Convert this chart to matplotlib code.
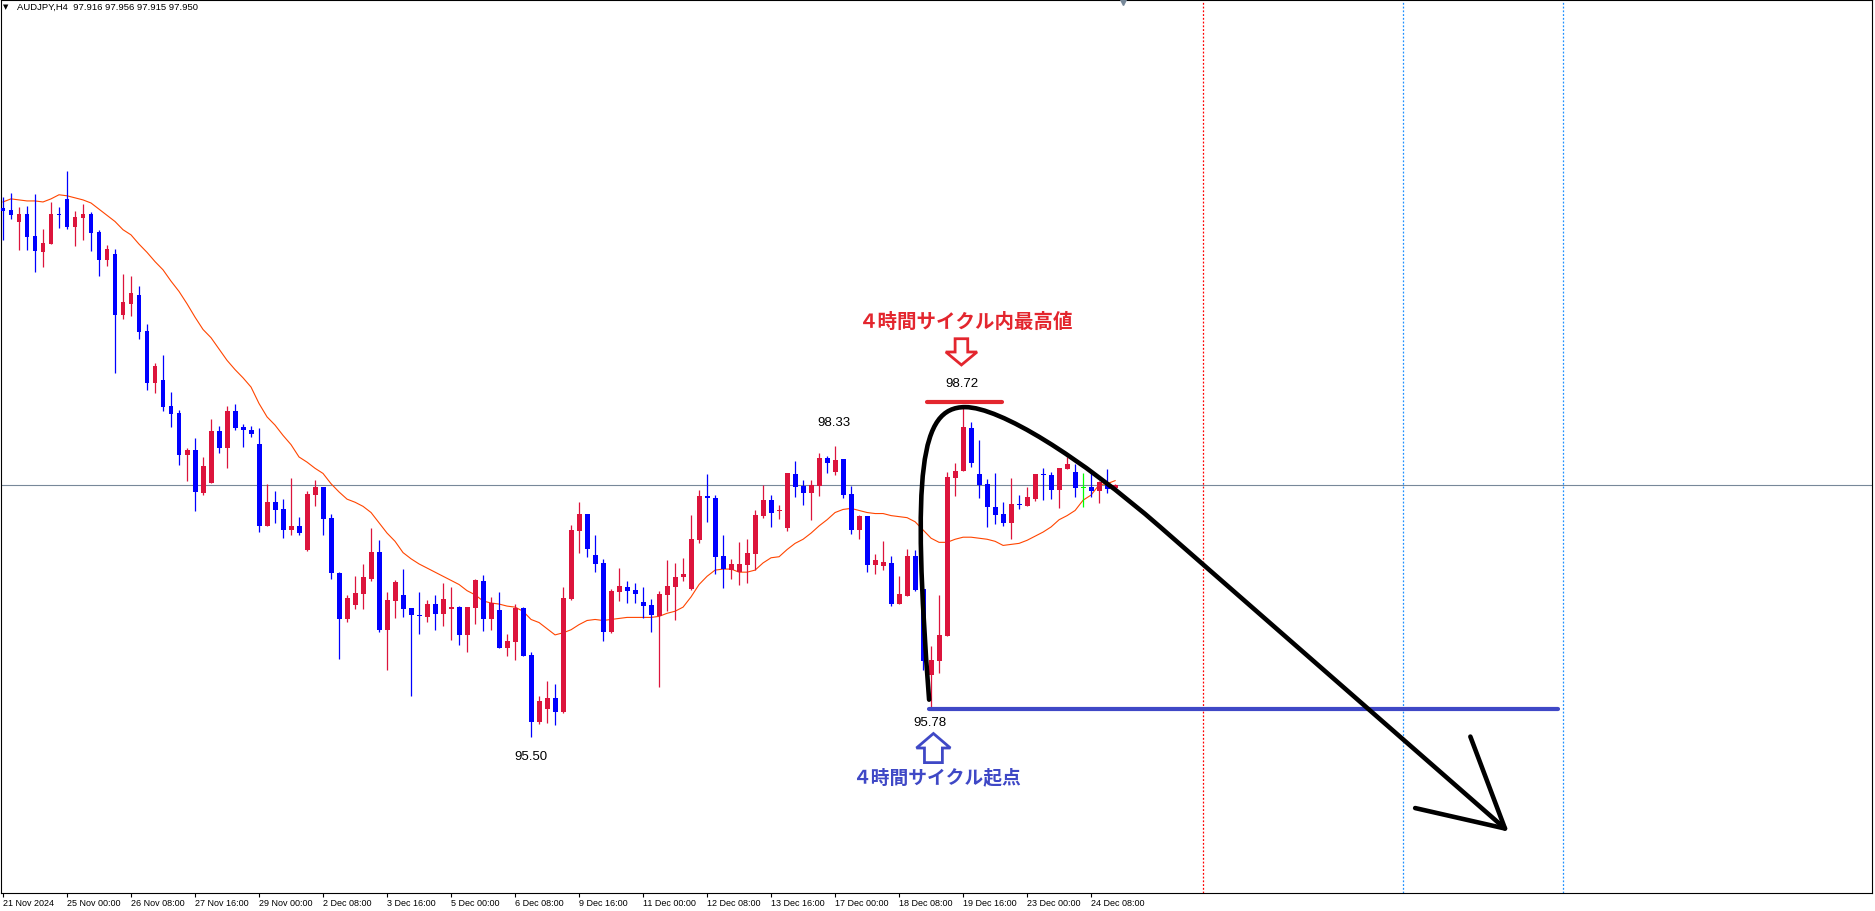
import numpy as np
import matplotlib.pyplot as plt
from matplotlib.path import Path
from matplotlib.patches import PathPatch, Polygon

# ---- AUDJPY H4 candles (bar 0 = 21 Nov 16:00) ----
opens = [
    100.64, 100.62, 100.51, 100.58, 100.37, 100.21, 100.29, 100.58, 100.73, 100.46,
    100.54, 100.58, 100.41, 100.14, 100.19, 99.60, 99.71, 99.80, 99.45, 98.94,
    98.97, 98.72, 98.65, 98.24, 98.29, 97.87, 97.97, 98.47, 98.31, 98.67,
    98.51, 98.48, 98.35, 97.55, 97.78, 97.71, 97.51, 97.55, 97.32, 97.85,
    97.93, 97.63, 97.09, 96.64, 96.78, 96.89, 97.03, 97.30, 96.54, 96.82,
    96.88, 96.75, 96.68, 96.66, 96.79, 96.69, 96.74, 96.76, 96.49, 96.75,
    97.01, 96.64, 96.73, 96.36, 96.42, 96.75, 96.29, 95.64, 95.77, 95.88,
    95.74, 96.84, 97.50, 97.67, 97.27, 97.19, 96.52, 96.91, 96.96, 96.93,
    96.81, 96.78, 96.67, 96.88, 96.96, 97.05, 96.94, 97.41, 97.84, 97.82,
    97.26, 97.12, 97.10, 97.17, 97.28, 97.65, 97.80, 97.69, 97.53, 98.05,
    97.94, 97.87, 97.94, 98.21, 98.07, 98.20, 97.86, 97.51, 97.65, 97.17,
    97.16, 97.19, 96.79, 96.87, 97.26, 96.94, 96.10, 96.24, 96.48, 98.02,
    98.08, 98.50, 98.05, 97.96, 97.73, 97.67, 97.58, 97.76, 97.74, 97.81,
    98.05, 98.04, 97.90, 98.10, 98.07, 97.92, 97.93, 97.89, 97.96, 97.916]
highs = [
    100.75, 100.79, 100.65, 100.66, 100.78, 100.44, 100.70, 100.65, 101.00, 100.61,
    100.68, 100.60, 100.43, 100.28, 100.24, 100.00, 99.98, 99.88, 99.51, 99.13,
    99.21, 98.85, 98.68, 98.31, 98.40, 98.22, 98.59, 98.52, 98.72, 98.74,
    98.54, 98.52, 98.50, 97.96, 97.89, 97.81, 98.02, 97.64, 97.89, 98.00,
    97.93, 97.67, 97.10, 96.88, 97.06, 97.18, 97.53, 97.41, 96.91, 97.02,
    97.13, 96.75, 96.91, 96.83, 96.88, 96.99, 96.96, 96.77, 96.76, 97.03,
    97.07, 96.86, 96.91, 96.50, 96.79, 96.76, 96.32, 95.90, 96.04, 96.01,
    96.96, 97.56, 97.78, 97.67, 97.46, 97.23, 96.94, 97.14, 97.01, 96.99,
    96.96, 96.84, 96.92, 97.22, 97.19, 97.24, 97.66, 97.90, 98.05, 97.85,
    97.46, 97.23, 97.39, 97.42, 97.70, 97.95, 97.85, 97.75, 98.06, 98.18,
    98.00, 98.00, 98.26, 98.23, 98.33, 98.20, 97.94, 97.66, 97.65, 97.28,
    97.40, 97.26, 97.06, 97.33, 97.32, 96.94, 96.38, 96.88, 98.07, 98.16,
    98.72, 98.56, 98.39, 98.01, 98.06, 97.78, 98.02, 97.85, 97.93, 98.05,
    98.11, 98.07, 98.11, 98.22, 98.15, 98.06, 98.07, 97.99, 98.10, 97.956]
lows = [
    100.33, 100.53, 100.23, 100.23, 100.02, 100.07, 100.29, 100.45, 100.44, 100.27,
    100.33, 100.22, 99.98, 100.08, 99.04, 99.56, 99.59, 99.37, 98.87, 98.84,
    98.67, 98.51, 98.14, 97.99, 97.69, 97.85, 97.97, 98.26, 98.11, 98.48,
    98.32, 98.41, 97.49, 97.55, 97.58, 97.43, 97.46, 97.46, 97.31, 97.74,
    97.46, 97.03, 96.26, 96.62, 96.74, 96.74, 97.01, 96.52, 96.15, 96.65,
    96.66, 95.90, 96.50, 96.62, 96.54, 96.58, 96.44, 96.39, 96.32, 96.60,
    96.53, 96.54, 96.36, 96.28, 96.25, 96.28, 95.50, 95.62, 95.63, 95.61,
    95.73, 96.83, 97.29, 97.25, 97.10, 96.43, 96.51, 96.82, 96.80, 96.80,
    96.65, 96.52, 95.98, 96.72, 96.63, 97.01, 96.93, 97.38, 97.59, 97.08,
    96.95, 97.03, 96.98, 96.99, 97.12, 97.63, 97.54, 97.62, 97.50, 97.83,
    97.75, 97.61, 97.84, 98.06, 98.04, 97.82, 97.47, 97.42, 97.10, 97.08,
    97.12, 96.77, 96.79, 96.87, 96.92, 96.15, 95.78, 96.12, 96.48, 97.84,
    98.08, 98.12, 97.82, 97.54, 97.57, 97.55, 97.42, 97.71, 97.74, 97.79,
    97.80, 97.81, 97.72, 98.10, 97.83, 97.73, 97.83, 97.77, 97.87, 97.915]
closes = [
    100.61, 100.57, 100.58, 100.36, 100.22, 100.30, 100.58, 100.575, 100.46, 100.55,
    100.58, 100.40, 100.14, 100.24, 99.60, 99.73, 99.81, 99.44, 98.94, 99.10,
    98.71, 98.64, 98.24, 98.29, 97.88, 98.13, 98.47, 98.31, 98.67, 98.50,
    98.48, 98.44, 97.55, 97.78, 97.70, 97.51, 97.55, 97.48, 97.86, 97.93,
    97.62, 97.09, 96.64, 96.85, 96.90, 97.05, 97.30, 96.54, 96.83, 97.00,
    96.74, 96.68, 96.67, 96.79, 96.69, 96.84, 96.76, 96.49, 96.76, 97.02,
    96.64, 96.80, 96.36, 96.43, 96.75, 96.28, 95.64, 95.85, 95.88, 95.74,
    96.85, 97.51, 97.67, 97.33, 97.18, 96.52, 96.92, 96.97, 96.92, 96.89,
    96.77, 96.68, 96.89, 96.97, 97.05, 97.08, 97.42, 97.84, 97.82, 97.25,
    97.13, 97.18, 97.18, 97.29, 97.66, 97.80, 97.68, 97.70, 98.06, 97.93,
    97.87, 97.95, 98.21, 98.16, 98.19, 97.85, 97.51, 97.65, 97.17, 97.22,
    97.20, 96.79, 96.89, 97.26, 96.93, 96.24, 96.25, 96.49, 98.03, 98.08,
    98.51, 98.16, 97.95, 97.73, 97.66, 97.58, 97.76, 97.75, 97.83, 98.05,
    98.04, 97.90, 98.11, 98.15, 97.92, 97.92, 97.89, 97.98, 97.91, 97.950]
# moving average
ma_line = [
    100.70, 100.73, 100.72, 100.71, 100.71, 100.70, 100.73, 100.77, 100.76, 100.74,
    100.72, 100.69, 100.63, 100.57, 100.51, 100.43, 100.38, 100.29, 100.21, 100.12,
    100.04, 99.93, 99.83, 99.71, 99.58, 99.46, 99.38, 99.27, 99.16, 99.07,
    98.99, 98.90, 98.74, 98.61, 98.53, 98.43, 98.34, 98.22, 98.17, 98.11,
    98.06, 97.96, 97.88, 97.81, 97.78, 97.74, 97.68, 97.58, 97.48, 97.40,
    97.29, 97.23, 97.18, 97.14, 97.10, 97.06, 97.02, 96.98, 96.92, 96.88,
    96.82, 96.80, 96.79, 96.77, 96.76, 96.72, 96.64, 96.61, 96.55, 96.49,
    96.51, 96.54, 96.59, 96.63, 96.64, 96.63, 96.64, 96.65, 96.66, 96.66,
    96.66, 96.66, 96.67, 96.70, 96.72, 96.76, 96.86, 96.98, 97.06, 97.12,
    97.13, 97.13, 97.10, 97.10, 97.12, 97.19, 97.24, 97.25, 97.32, 97.38,
    97.42, 97.48, 97.55, 97.61, 97.68, 97.71, 97.72, 97.70, 97.68, 97.67,
    97.67, 97.65, 97.64, 97.63, 97.59, 97.51, 97.43, 97.39, 97.39, 97.42,
    97.44, 97.44, 97.43, 97.42, 97.40, 97.36, 97.37, 97.38, 97.41, 97.45,
    97.49, 97.54, 97.61, 97.65, 97.70, 97.80, 97.85, 97.95, 97.96, 97.99]

time_labels = ['21 Nov 2024', '25 Nov 00:00', '26 Nov 08:00', '27 Nov 16:00',
               '29 Nov 00:00', '2 Dec 08:00', '3 Dec 16:00', '5 Dec 00:00',
               '6 Dec 08:00', '9 Dec 16:00', '11 Dec 00:00', '12 Dec 08:00',
               '13 Dec 16:00', '17 Dec 00:00', '18 Dec 08:00', '19 Dec 16:00',
               '23 Dec 00:00', '24 Dec 08:00']
bars_per_label = 8

bid = 97.950
cycle_high = 98.72
cycle_low = 95.78
prev_high = 98.33
prev_low = 95.50

BULL = '#dc143c'
BEAR = '#0000ff'
RED_TXT = '#e3262e'
BLUE_TXT = '#3f48c6'
SMALL_FONT = 'Liberation Sans'
CJK = ['Noto Sans CJK JP', 'DejaVu Sans']

W, H = 1875, 911
fig = plt.figure(figsize=(W / 100, H / 100), dpi=100)
ax = fig.add_axes([1 / W, 18 / H, 1871 / W, 893 / H])
ax.set_xlim(-0.25, 233.6)
ax.set_ylim(93.98, 102.664)

o = np.array(opens)
h = np.array(highs)
l = np.array(lows)
c = np.array(closes)
idx = np.arange(len(o))
cols = np.where(c > o, BULL, np.where(c < o, BEAR, '#00ff00'))

ax.axhline(bid, color='#778899', lw=0.8, zorder=1)
ax.plot(idx, ma_line, color='#ff4500', lw=0.8, zorder=2)
ax.vlines(idx, l, h, colors=cols, lw=0.9, zorder=3)
ax.bar(idx, np.maximum(np.abs(c - o), 0.011), bottom=np.minimum(o, c),
       width=0.62, color=cols, linewidth=0, zorder=3)

# separators
ax.axvline(150, color='#ff0000', lw=0.9, ls=(0, (1.5, 1.5)), zorder=1)
for xv in (175, 195):
    ax.axvline(xv, color='#1e90ff', lw=0.9, ls=(0, (1.5, 1.5)), zorder=1)

# hand drawn cycle curve + arrow
verts = [(115.75, 95.86), (113.6, 98.09), (114.6, 98.705), (120.25, 98.705),
         (124.6, 98.705), (134.6, 98.22), (144.6, 97.542), (187.73, 94.607)]
codes = [Path.MOVETO, Path.CURVE4, Path.CURVE4, Path.CURVE4,
         Path.CURVE4, Path.CURVE4, Path.CURVE4, Path.LINETO]
ax.add_patch(PathPatch(Path(verts, codes), fill=False, edgecolor='black', lw=3.3,
                       capstyle='round', joinstyle='round', zorder=6))
ax.plot([183.4, 187.73, 176.5], [95.501, 94.607, 94.806], color='black', lw=3.3,
        solid_capstyle='round', solid_joinstyle='round', zorder=6)

# high / low marker lines
ax.plot([115.45, 124.8], [98.758, 98.758], color=RED_TXT, lw=3, solid_capstyle='round', zorder=5)
ax.plot([115.8, 194.4], [95.774, 95.774], color=BLUE_TXT, lw=3, solid_capstyle='round', zorder=5)

# hollow arrows
cx = 119.79
ax.add_patch(Polygon([(cx - 0.79, 99.370), (cx + 0.79, 99.370), (cx + 0.79, 99.241),
                      (cx + 1.95, 99.241), (cx, 99.115), (cx - 1.95, 99.241),
                      (cx - 0.79, 99.241)], closed=True, facecolor='white',
                     edgecolor=RED_TXT, lw=2, zorder=5))
cx = 116.29
ax.add_patch(Polygon([(cx - 1.12, 95.248), (cx + 1.12, 95.248), (cx + 1.12, 95.390),
                      (cx + 2.12, 95.390), (cx, 95.531), (cx - 2.12, 95.390),
                      (cx - 1.12, 95.390)], closed=True, facecolor='white',
                     edgecolor=BLUE_TXT, lw=2, zorder=5))

ax.text(120.4, 99.53, '４時間サイクル内最高値', ha='center', va='center', fontsize=14,
        fontweight='bold', color=RED_TXT, family=CJK, zorder=7)
ax.text(116.6, 95.103, '４時間サイクル起点', ha='center', va='center', fontsize=13.5,
        fontweight='bold', color=BLUE_TXT, family=CJK, zorder=7)

for xv, yv, val in [(119.9, 98.93, cycle_high), (115.9, 95.633, cycle_low),
                    (103.8, 98.55, prev_high), (66.0, 95.302, prev_low)]:
    ax.text(xv, yv, f'{val:.2f}', ha='center', va='center', fontsize=9.5,
            family='Liberation Sans', color='black', zorder=7)

# little shift marker at top
ax.plot([140], [102.64], marker='v', ms=5, color='#778899', clip_on=False, zorder=7)

# time axis
ax.set_xticks(np.arange(len(time_labels)) * bars_per_label)
ax.set_xticklabels(time_labels, fontsize=6.5, family=SMALL_FONT)
for lab in ax.get_xticklabels():
    lab.set_horizontalalignment('left')
ax.tick_params(axis='x', length=3, width=0.8, pad=1.5, direction='out')
ax.set_yticks([])
for sp in ax.spines.values():
    sp.set_linewidth(0.8)
    sp.set_color('black')

fig.text(3 / W, 1 - 7 / H, '▼', fontsize=5, va='center', ha='left', color='black')
fig.text(17 / W, 1 - 7 / H, 'AUDJPY,H4  97.916 97.956 97.915 97.950', fontsize=6.8,
         va='center', ha='left', family=SMALL_FONT, color='black')

fig.savefig('out.png', dpi=100, facecolor='white')
